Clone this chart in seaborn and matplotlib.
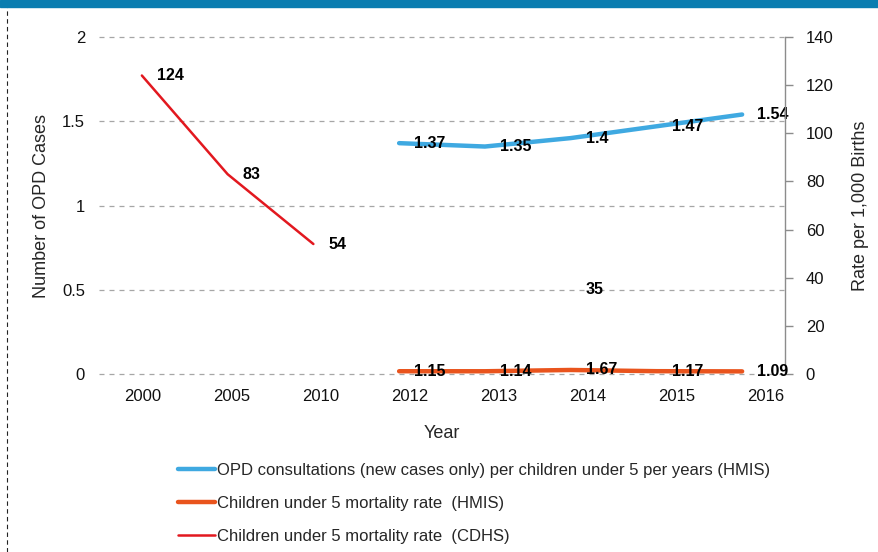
import matplotlib.pyplot as plt
import matplotlib.patches as mpatches
import matplotlib.lines as mlines
import seaborn as sns
import numpy as np
import pandas as pd

# ==========================
#  DATA
# ==========================
years = ["2000", "2005", "2010", "2012", "2013", "2014", "2015", "2016"]
opd_hmis = [np.nan, np.nan, np.nan, 1.37, 1.35, 1.40, 1.47, 1.54]
mort_hmis = [np.nan, np.nan, np.nan, 1.15, 1.14, 1.67, 1.17, 1.09]
mort_cdhs = [124, 83, 54, np.nan, np.nan, 35, np.nan, np.nan]

opd_label = "OPD consultations (new cases only) per children under 5 per years (HMIS)"
hmis_label = "Children under 5 mortality rate  (HMIS)"
cdhs_label = "Children under 5 mortality rate  (CDHS)"

df = pd.DataFrame({"pos": np.arange(len(years)), "Year": years,
                   "OPD": opd_hmis, "HMIS": mort_hmis, "CDHS": mort_cdhs})
# gaps in a series break the line into separate runs
for col in ["OPD", "HMIS", "CDHS"]:
    df[col + "_run"] = df[col].isna().cumsum()

BLUE = "#3fa9e1"
ORANGE = "#e9541d"
RED = "#e2181f"
GRID = "#a6a6a6"

sns.set_style("white")
plt.rcParams["font.family"] = ["Liberation Sans", "DejaVu Sans"]
LABEL_FONT = ["Liberation Sans Narrow", "Liberation Sans", "DejaVu Sans"]

fig = plt.figure(figsize=(8.79, 5.52), dpi=100)
ax = fig.add_axes([99 / 879, 1 - 374 / 552, 686 / 879, 337 / 552])
ax2 = ax.twinx()


def draw_series(a, col, color, lw):
    sub = df.dropna(subset=[col])
    sns.lineplot(data=sub, x="pos", y=col, units=col + "_run", estimator=None,
                 ax=a, color=color, linewidth=lw, legend=False)


draw_series(ax, "OPD", BLUE, 3.2)      # left axis: OPD cases
draw_series(ax2, "HMIS", ORANGE, 3.2)  # right axis: mortality rates
draw_series(ax2, "CDHS", RED, 1.8)

ax.set_xlim(-0.5, len(years) - 0.5)
ax.set_ylim(0, 2)
ax2.set_ylim(0, 140)
ax.set_yticks([0, 0.5, 1, 1.5, 2])
ax.set_yticklabels(["0", "0.5", "1", "1.5", "2"])
ax2.set_yticks(np.arange(0, 141, 20))

# year labels sit on a slightly wider spacing than the points
ax.set_xticks(0.012 + np.arange(len(years)) * 1.038)
ax.set_xticklabels(years)

ax.yaxis.grid(True, linestyle=(0, (4, 4)), color=GRID, linewidth=0.9)
ax.set_axisbelow(True)
for gl in ax.get_ygridlines():
    gl.set_clip_on(False)
for a in (ax, ax2):
    for s in a.spines.values():
        s.set_visible(False)
ax2.spines["right"].set_visible(True)
ax2.spines["right"].set_color("#8c8c8c")
ax2.spines["right"].set_linewidth(1.0)

ax.tick_params(axis="x", length=0, pad=11, labelsize=12, colors="#111111")
ax.tick_params(axis="y", length=0, pad=10, labelsize=12, colors="#111111")
ax2.tick_params(axis="y", length=6, width=1, color="#8c8c8c", pad=9,
                labelsize=12, labelcolor="#111111", direction="out")

ax.set_xlabel("Year", fontsize=13, labelpad=15)
ax.set_ylabel("Number of OPD Cases", fontsize=13, labelpad=9)
ax2.set_ylabel("Rate per 1,000 Births", fontsize=13, labelpad=13)


# data labels to the right of each point
def add_labels(a, values):
    for x, v in zip(df["pos"], values):
        if pd.isna(v):
            continue
        a.annotate(f"{v:g}", xy=(x, v), xytext=(11, 0), textcoords="offset points",
                   ha="left", va="center", fontsize=11.5, fontweight="bold",
                   family=LABEL_FONT, color="black")


add_labels(ax, opd_hmis)
add_labels(ax2, mort_hmis)
add_labels(ax2, mort_cdhs)

# legend below
handles = [mlines.Line2D([], [], color=BLUE, linewidth=3.2),
           mlines.Line2D([], [], color=ORANGE, linewidth=3.2),
           mlines.Line2D([], [], color=RED, linewidth=1.8)]
fig.legend(handles, [opd_label, hmis_label, cdhs_label],
           loc="upper left", bbox_to_anchor=(178 / 879, 1 - 463 / 552),
           frameon=False, fontsize=12, handlelength=2.2, handletextpad=0.15,
           labelspacing=1.07, borderaxespad=0, borderpad=0)

# top band and dashed left border
fig.patches.append(mpatches.Rectangle((0, 1 - 7 / 552), 1, 7 / 552,
                                      transform=fig.transFigure,
                                      color="#0a7db0", zorder=5))
fig.lines.append(mlines.Line2D([7 / 879, 7 / 879], [0, 1 - 7 / 552],
                               transform=fig.transFigure, color="#222222",
                               linewidth=0.8, linestyle=(0, (4, 3))))

fig.savefig("out.png", dpi=100)
